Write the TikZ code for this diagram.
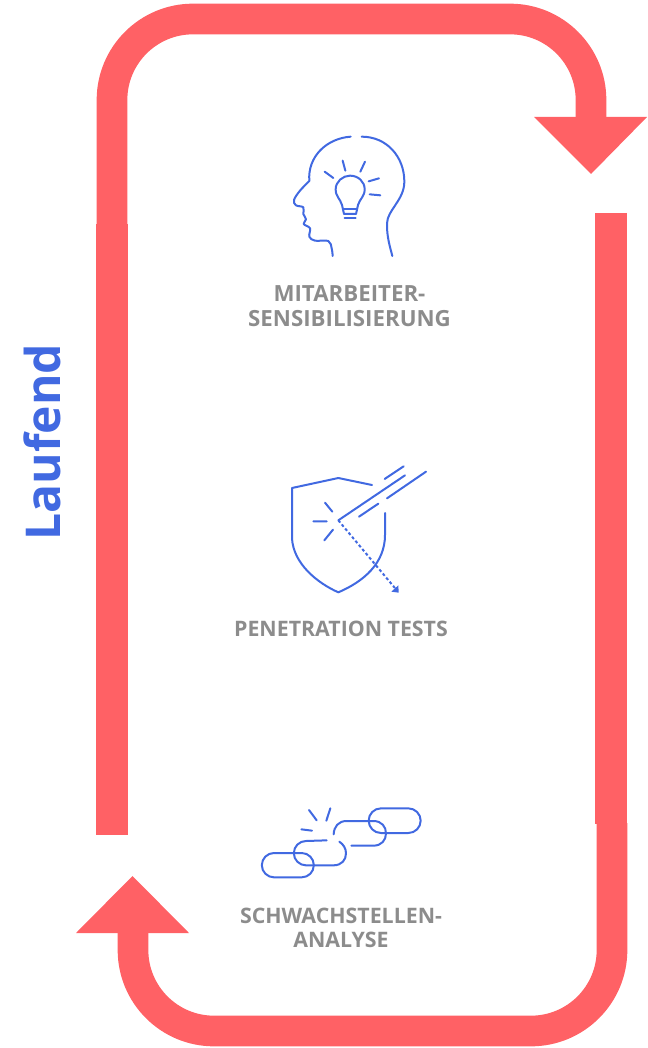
\documentclass[tikz,border=0pt]{standalone}
\usepackage{fontspec}
\setmainfont{Open Sans}
\usepackage{xcolor}
\definecolor{loopred}{RGB}{255,97,101}
\definecolor{iconblue}{RGB}{65,105,225}
\definecolor{labelgray}{RGB}{140,140,140}
\begin{document}
\begin{tikzpicture}[x=0.75pt, y=-0.75pt,
    band/.style={draw=loopred, line width=23pt},
    tip/.style={fill=loopred},
    icon/.style={draw=iconblue, line width=1.5pt, line cap=round, line join=round},
    steplabel/.style={text=labelgray, font=\bfseries\fontsize{16}{18.4}\selectfont, align=center}]
  \useasboundingbox (0,0) rectangle (648,1048);

  % Upper arrow
  \draw[band] (112,225) -- (112,100) arc[start angle=180, end angle=270, radius=81]
    -- (510,19) arc[start angle=270, end angle=360, radius=81] -- (591,120);
  \fill[tip] (534,117) -- (647,117) -- (591,174) -- cycle;
  \draw[band, line width=24pt] (112,224) -- (112,835);

  % Lower arrow
  \draw[band, line width=24pt] (611,213) -- (611,824);
  \draw[band] (612,823) -- (612,950) arc[start angle=0, end angle=90, radius=81]
    -- (214,1031) arc[start angle=90, end angle=180, radius=81] -- (133,930);
  \fill[tip] (76,933) -- (189,933) -- (132.5,876) -- cycle;

  % Side label
  \node[rotate=90, text=iconblue, font=\bfseries\fontsize{36}{40}\selectfont] (laufend) at (42,442) {Laufend};

  % Head icon
  \begin{scope}[shift={(270,120)}, x=0.25pt, y=-0.25pt]
    \draw[icon] plot[smooth, tension=.6] coordinates {(188,408) (185,385) (175,363) (135,362) (118,350) (120,325) (101,312) (108,298) (100,282) (100,262) (78,256) (72,240) (90,212) (118,183)}
      .. controls (112,110) and (170,55) .. (242,50);
    \draw[icon] (275,50) .. controls (350,50) and (403,110) .. (403,185)
      .. controls (403,240) and (352,270) .. (351,310) .. controls (350,350) and (360,380) .. (367,408);
    \draw[icon] (222,282) -- (216,255) .. controls (210,235) and (197,230) .. (197,208)
      .. controls (197,185) and (218,167) .. (240,167) .. controls (265,167) and (284,185) .. (284,208)
      .. controls (284,230) and (270,235) .. (264,255) -- (258,282) -- cycle;
    \draw[icon] (220,268) -- (260,268) (224,295) -- (257,295);
    \draw[icon] (164,155) -- (190,174) (218,122) -- (226,152) (285,125) -- (271,155)
      (296,184) -- (327,175) (299,223) -- (331,226);
  \end{scope}
  \node[steplabel, font=\bfseries\fontsize{16.7}{18.6}\selectfont] (awareness) at (349.5,306.5) {MITARBEITER-\\SENSIBILISIERUNG};

  % Shield icon
  \begin{scope}[shift={(270,450)}, x=0.25pt, y=-0.25pt]
    \draw[icon] (306,105) -- (205,84) -- (66,114) -- (66,265)
      .. controls (70,340) and (140,398) .. (205,427)
      .. controls (280,395) and (345,340) .. (345,255) -- (345,189);
    \draw[icon] (205,211) -- (405,76) (344,87) -- (401,49) (351,145) -- (468,65) (267,200) -- (325,161);
    \draw[icon] (165,158) -- (187,185) (130,214) -- (170,214) (163,271) -- (189,239);
    \draw[icon, line cap=butt, dash pattern=on 2.2pt off 1.8pt] (205,211) -- (378,418);
    \fill[iconblue] (386,428) -- (364,425) -- (385,406) -- cycle;
  \end{scope}
  \node[steplabel] (pentest) at (341,628.5) {PENETRATION TESTS};

  % Chain icon
  \begin{scope}[shift={(250,795)}, x=0.25pt, y=-0.25pt]
    \draw[icon] (72,174) -- (155,174) arc[start angle=-90, end angle=90, radius=36.5]
      -- (72,247) arc[start angle=90, end angle=270, radius=36.5] -- cycle;
    \draw[icon] (230,136) -- (168,138) arc[start angle=270, end angle=90, radius=36.5]
      -- (250,211) .. controls (275,211) and (288,195) .. (288,175) .. controls (288,160) and (280,148) .. (268,140);
    \draw[icon] (251,118) .. controls (252,95) and (265,78) .. (290,78) -- (370,78)
      .. controls (395,78) and (408,95) .. (408,115) .. controls (408,135) and (395,152) .. (370,152) -- (304,152);
    \draw[icon] (393,40) -- (475,40) arc[start angle=-90, end angle=90, radius=37]
      -- (393,114) arc[start angle=90, end angle=270, radius=37] -- cycle;
    \draw[icon] (177,45) -- (200,76) (241,40) -- (229,77) (154,103) -- (186,107);
  \end{scope}
  \node[steplabel] (scan) at (341,928) {SCHWACHSTELLEN-\\ANALYSE};
\end{tikzpicture}
\end{document}
